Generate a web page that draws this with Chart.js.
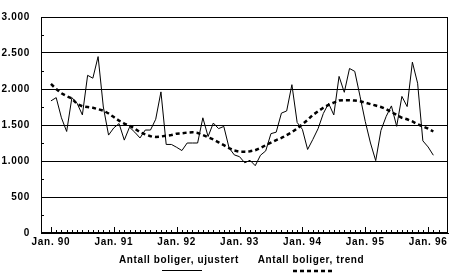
<!DOCTYPE html>
<html>
<head>
<meta charset="utf-8">
<script src="https://cdn.jsdelivr.net/npm/chart.js@4.4.1/dist/chart.umd.min.js"></script>
<style>
  body { margin: 0; background: #fff; }
  canvas { display: block; }
</style>
</head>
<body>
<canvas id="boliger" width="452" height="280"></canvas>
<script>
// Antall boliger, månedstall jan. 1990 - feb. 1996
var ujustert = [
    1835, 1880, 1600, 1410, 1880, 1800, 1640, 2190, 2150, 2450, 1750, 1360,
    1460, 1520, 1290, 1470, 1400, 1320, 1430, 1430, 1580, 1960, 1230, 1230,
    1190, 1145, 1250, 1250, 1250, 1600, 1340, 1527, 1450, 1480, 1183, 1085,
    1060, 975, 1010, 935, 1080, 1140, 1380, 1400, 1665, 1695, 2060, 1535,
    1440, 1160, 1300, 1450, 1660, 1800, 1640, 2175, 1954, 2285, 2245, 1900,
    1550, 1250, 1005, 1425, 1620, 1765, 1482, 1897, 1756, 2373, 2080, 1280,
    1195, 1080
];
var trend = [
    2070, 2000, 1940, 1900, 1870, 1790, 1760, 1750, 1740, 1720, 1700, 1660,
    1610, 1560, 1520, 1490, 1450, 1400, 1370, 1345, 1335, 1340, 1350, 1360,
    1380, 1385, 1395, 1400, 1390, 1360, 1330, 1300, 1260, 1220, 1180, 1145,
    1130, 1130, 1135, 1150, 1180, 1220, 1255, 1290, 1320, 1360, 1400, 1450,
    1510, 1570, 1640, 1690, 1740, 1780, 1810, 1840, 1845, 1845, 1840, 1830,
    1810, 1790, 1770, 1750, 1720, 1680, 1640, 1600, 1580, 1550, 1510, 1480,
    1450, 1410
];
var aarEtiketter = ['Jan. 90', 'Jan. 91', 'Jan. 92', 'Jan. 93', 'Jan. 94', 'Jan. 95', 'Jan. 96'];
var yTicks = [0, 500, 1000, 1500, 2000, 2500, 3000];
var serieNavn = ['Antall boliger, ujustert', 'Antall boliger, trend'];

// måned nr. i (0 = jan. 90) -> x
function tilPunkter(arr) {
    return arr.map(function (v, i) { return { x: i, y: v }; });
}

function tusen(v) {
    return String(v).replace(/\B(?=(\d{3})+(?!\d))/g, '.');
}

var fontNavn = '"Liberation Sans", Arial, sans-serif';

// ramme, småstreker og forklaring
var pynt = {
    id: 'pynt',
    beforeDraw: function (chart) {
        chart.ctx.letterSpacing = '0.7px';
    },
    afterDraw: function (chart) {
        var c = chart.ctx, a = chart.chartArea;
        var xs = chart.scales.x, ys = chart.scales.y;
        c.save();
        c.strokeStyle = '#000';
        c.lineWidth = 1;
        c.strokeRect(Math.round(a.left) + 0.5, Math.round(a.top) + 0.5,
            Math.round(a.right - a.left) - 1, Math.round(a.bottom - a.top) - 1);
        c.beginPath();
        for (var m = 0; m <= 74; m++) {
            var px = Math.round(xs.getPixelForValue(m)) + 0.5;
            var len = (m % 12 === 0) ? 6 : 3;
            c.moveTo(px, a.bottom);
            c.lineTo(px, a.bottom - len);
        }
        for (var v = 250; v < 3000; v += 500) {
            var py = Math.round(ys.getPixelForValue(v)) + 0.5;
            c.moveTo(a.left, py);
            c.lineTo(a.left + 3, py);
        }
        c.stroke();

        // forklaring
        c.fillStyle = '#000';
        c.font = 'bold 10px ' + fontNavn;
        c.letterSpacing = '0.6px';
        c.textAlign = 'center';
        c.textBaseline = 'middle';
        var sentre = [179, 311];
        var prøver = [182, 313];
        for (var i = 0; i < 2; i++) {
            c.fillText(serieNavn[i], sentre[i], 260);
            c.beginPath();
            if (i === 1) {
                c.setLineDash([4, 3]);
                c.lineWidth = 2.5;
                c.moveTo(prøver[i] - 20, 271);
                c.lineTo(prøver[i] + 20, 271);
            } else {
                c.setLineDash([]);
                c.lineWidth = 1;
                c.moveTo(prøver[i] - 20, 270.5);
                c.lineTo(prøver[i] + 20, 270.5);
            }
            c.stroke();
        }
        c.restore();
    }
};

var ctx = document.getElementById('boliger').getContext('2d');

var boligGraf = new Chart(ctx, {
    type: 'line',
    data: {
        datasets: [{
            label: serieNavn[0],
            data: tilPunkter(ujustert),
            borderColor: '#000',
            borderWidth: 1,
            pointRadius: 0,
            tension: 0
        }, {
            label: serieNavn[1],
            data: tilPunkter(trend),
            borderColor: '#000',
            borderWidth: 2.5,
            borderDash: [4, 3],
            pointRadius: 0,
            tension: 0
        }]
    },
    options: {
        responsive: false,
        animation: false,
        devicePixelRatio: 1,
        layout: { padding: { top: 6, right: 4, left: 0, bottom: 0 } },
        plugins: {
            legend: { display: false },
            tooltip: { enabled: false }
        },
        scales: {
            x: {
                type: 'linear',
                min: -1.9,
                max: 75.8,
                afterBuildTicks: function (scale) {
                    scale.ticks = aarEtiketter.map(function (t, i) { return { value: i * 12 }; });
                },
                afterFit: function (scale) { scale.height = 47; },
                grid: { display: false, drawTicks: false },
                border: { display: true, color: '#000', width: 1 },
                ticks: {
                    autoSkip: false,
                    maxRotation: 0,
                    padding: 3,
                    color: '#000',
                    font: { family: fontNavn, size: 10, weight: 'bold' },
                    callback: function (v) { return aarEtiketter[Math.round(v / 12)]; }
                }
            },
            y: {
                min: 0,
                max: 3000,
                afterBuildTicks: function (scale) {
                    scale.ticks = yTicks.map(function (v) { return { value: v }; });
                },
                afterFit: function (scale) { scale.width = 41; },
                grid: { color: '#000', lineWidth: 1, drawTicks: false },
                border: { display: true, color: '#000', width: 1 },
                ticks: {
                    padding: 11,
                    color: '#000',
                    font: { family: fontNavn, size: 10, weight: 'bold' },
                    callback: function (v) { return tusen(v); }
                }
            }
        }
    },
    plugins: [pynt]
});
</script>
</body>
</html>
